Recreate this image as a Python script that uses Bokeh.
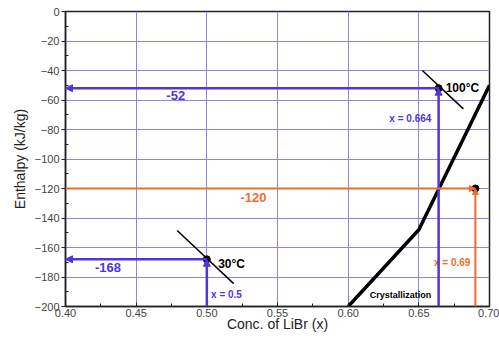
from bokeh.plotting import figure
from bokeh.models import (ColumnDataSource, Arrow, NormalHead, FixedTicker, Range1d,
                          NumeralTickFormatter)
from bokeh.core.properties import value
from bokeh.embed import file_html
from bokeh.resources import INLINE

# ---- data ----
state_x = [0.5, 0.664, 0.69]
state_y = [-168, -52, -120]
cryst_x = [0.60, 0.65, 0.70]
cryst_y = [-200, -148, -50]
tan30_x = [0.479, 0.519]
tan30_y = [-148.5, -184.5]
tan100_x = [0.6525, 0.6815]
tan100_y = [-40, -66]
x_ticks = [0.40, 0.45, 0.50, 0.55, 0.60, 0.65, 0.70]
y_ticks = [0, -20, -40, -60, -80, -100, -120, -140, -160, -180, -200]

BLUE = "#5233e0"
ORANGE = "#f26b2c"
GRID = "#8c84e6"
FONT = "Liberation Sans"

p = figure(width=499, height=341, output_backend="svg", toolbar_location=None,
           x_range=Range1d(0.40, 0.70), y_range=Range1d(-200, 0),
           min_border_left=65, min_border_right=10, min_border_top=11, min_border_bottom=35,
           background_fill_color="white", border_fill_color="white")
p.outline_line_color = "#222222"
p.outline_line_width = 1.5

p.xaxis.ticker = FixedTicker(ticks=x_ticks,
                             minor_ticks=[0.425, 0.475, 0.525, 0.575, 0.625, 0.675])
p.yaxis.ticker = FixedTicker(ticks=y_ticks, minor_ticks=list(range(-190, 0, 20)))
p.xaxis.formatter = NumeralTickFormatter(format="0.00")
for ax in (p.xaxis[0], p.yaxis[0]):
    ax.axis_line_color = "#222222"
    ax.axis_line_width = 1.5
    ax.major_tick_line_color = "#222222"
    ax.minor_tick_line_color = "#222222"
    ax.major_label_text_font = FONT
    ax.major_label_text_font_size = "11px"
    ax.major_label_text_color = "#444444"
    ax.axis_label_text_font = FONT
    ax.axis_label_text_font_size = "14px"
    ax.axis_label_text_font_style = "normal"
    ax.axis_label_text_color = "#222222"
p.xaxis.major_tick_in = 4
p.xaxis.major_tick_out = 0
p.xaxis.minor_tick_in = 3
p.xaxis.minor_tick_out = 0
p.xaxis.major_label_standoff = 2
p.xaxis.axis_label = "Conc. of LiBr (x)"
p.xaxis.axis_label_standoff = -4
p.yaxis.major_tick_in = 0
p.yaxis.major_tick_out = 4
p.yaxis.minor_tick_in = 3
p.yaxis.minor_tick_out = 0
p.yaxis.major_label_standoff = 2
p.yaxis.axis_label = "Enthalpy (kJ/kg)"
p.yaxis.axis_label_standoff = 4

p.xgrid.grid_line_color = GRID
p.ygrid.grid_line_color = GRID
p.xgrid.grid_line_width = 1
p.ygrid.grid_line_width = 1

# crystallization line
p.line(cryst_x, cryst_y, line_color="black", line_width=3.5)
# tangent lines
p.line(tan30_x, tan30_y, line_color="black", line_width=1.5)
p.line(tan100_x, tan100_y, line_color="black", line_width=1.5)

# blue arrows (30C and 100C states)
blue_src = ColumnDataSource(dict(
    xs=[state_x[0], state_x[1], state_x[0], state_x[1]],
    ys=[state_y[0], state_y[1], -200, -200],
    xe=[0.40, 0.40, state_x[0], state_x[1]],
    ye=[state_y[0], state_y[1], state_y[0], state_y[1]],
))
p.add_layout(Arrow(source=blue_src, x_start="xs", y_start="ys", x_end="xe", y_end="ye",
                   line_color=BLUE, line_width=2.5,
                   end=NormalHead(size=7, fill_color=BLUE, line_color=BLUE)))

# orange arrows (crystallization point)
or_src = ColumnDataSource(dict(
    xs=[0.40, state_x[2]],
    ys=[state_y[2], -200],
    xe=[state_x[2], state_x[2]],
    ye=[state_y[2], state_y[2]],
))
p.add_layout(Arrow(source=or_src, x_start="xs", y_start="ys", x_end="xe", y_end="ye",
                   line_color=ORANGE, line_width=2,
                   end=NormalHead(size=6, fill_color=ORANGE, line_color=ORANGE)))

# state points
p.scatter(state_x, state_y, size=7, fill_color="black", line_color="black")

# value labels
p.text(x=[0.478, 0.430], y=[-57, -173.5], text=[str(state_y[1]), str(state_y[0])],
       text_color=BLUE, text_font=value(FONT), text_font_size="13px",
       text_font_style="bold", text_align="center", text_baseline="middle")
p.text(x=[0.533], y=[-126], text=[str(state_y[2])],
       text_color=ORANGE, text_font=value(FONT), text_font_size="13px",
       text_font_style="bold", text_align="center", text_baseline="middle")
p.text(x=[0.644], y=[-72.5], text=["x = " + str(state_x[1])],
       text_color=BLUE, text_font=value(FONT), text_font_size="10px",
       text_font_style="bold", text_align="center", text_baseline="middle")
p.text(x=[0.503], y=[-192], text=["x = " + str(state_x[0])],
       text_color=BLUE, text_font=value(FONT), text_font_size="10px",
       text_font_style="bold", text_align="left", text_baseline="middle")
p.text(x=[0.6865], y=[-170], text=["x = " + str(state_x[2])],
       text_color=ORANGE, text_font=value(FONT), text_font_size="10px",
       text_font_style="bold", text_align="right", text_baseline="middle")
p.text(x=[0.508, 0.669], y=[-171, -52], text=["30°C", "100°C"],
       text_color="black", text_font=value(FONT), text_font_size="12px",
       text_font_style="bold", text_align="left", text_baseline="middle")
p.text(x=[0.637], y=[-192.5], text=["Crystallization"],
       text_color="black", text_font=value(FONT), text_font_size="9px",
       text_font_style="bold", text_align="center", text_baseline="middle")

open("out.html", "w").write(file_html(p, INLINE))
